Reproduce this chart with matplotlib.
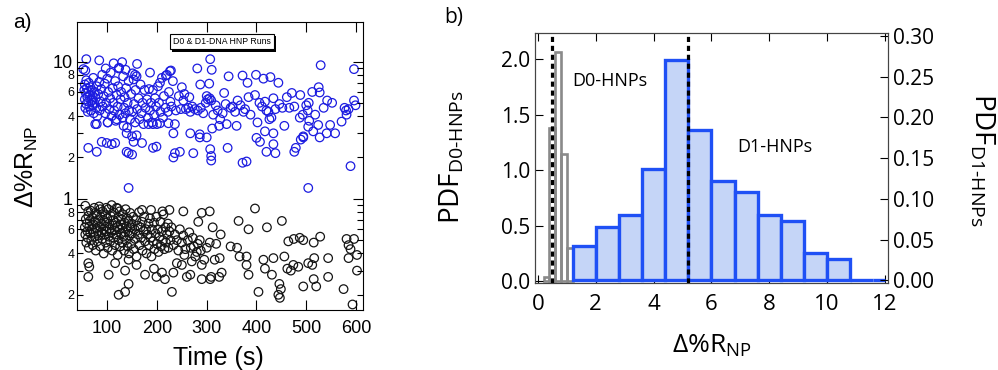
import numpy as np
import matplotlib
matplotlib.use('Agg')
import matplotlib.pyplot as plt
import matplotlib.patheffects as pe
from matplotlib.ticker import FixedLocator, FixedFormatter, FormatStrFormatter

plt.rcParams['font.family'] = ['Liberation Sans', 'DejaVu Sans']
plt.rcParams['mathtext.fontset'] = 'custom'
plt.rcParams['mathtext.rm'] = 'Open Sans'

# panel a) - (time in s, delta %R_NP) for each detected run
d1_runs = [
    (52, 8.8), (54, 6.2), (55, 5.3), (55, 6.8), (56, 4.6), (57, 5.9), (58, 7.3), (58, 4.9), (59, 6.4), (60, 5.5),
    (61, 4.3), (62, 6.0), (62, 5.1), (63, 7.0), (64, 4.7), (65, 5.7), (66, 6.5), (67, 4.4), (68, 5.2), (69, 6.2),
    (70, 4.8), (71, 5.6), (72, 7.6), (73, 4.2), (74, 5.0), (75, 6.0), (76, 3.5), (77, 5.4), (78, 4.6), (79, 6.6),
    (80, 4.0), (82, 5.8), (84, 7.1), (85, 4.4), (87, 5.1), (88, 6.3),
    (58, 10.4), (84, 10.2), (56, 8.6), (113, 9.7), (130, 9.9), (123, 8.9), (97, 8.9), (137, 8.7), (156, 8.0),
    (159, 7.8), (160, 9.6), (186, 8.3), (206, 7.0), (218, 7.9), (226, 8.5),
    (90, 8.0), (91, 4.7), (93, 5.6), (95, 6.9), (96, 4.2), (98, 5.0), (100, 7.5), (101, 3.6), (102, 6.0), (104, 4.5),
    (106, 5.4), (107, 8.3), (109, 4.0), (111, 6.4), (112, 5.0), (114, 4.4), (116, 7.2), (117, 3.7), (119, 5.7), (121, 4.7),
    (122, 6.6), (124, 9.0), (125, 4.1), (127, 5.3), (128, 6.0), (131, 3.9), (132, 7.8), (134, 4.6), (135, 5.5), (137, 4.2),
    (138, 6.4), (140, 3.3), (141, 5.0), (143, 7.2), (144, 4.4), (146, 3.8), (148, 5.8), (150, 4.3), (151, 8.2), (153, 7.4),
    (154, 4.9), (156, 3.6), (157, 6.2), (160, 4.5),
    (163, 5.4), (165, 3.8), (167, 6.8), (169, 4.2), (171, 5.0), (173, 3.5), (175, 6.2), (177, 4.6), (180, 5.3), (182, 3.9),
    (184, 6.3), (186, 4.4), (188, 5.0), (190, 3.6), (192, 6.2), (194, 4.1), (196, 5.4), (198, 4.7), (200, 3.5), (202, 6.6),
    (204, 5.0), (207, 4.3), (210, 7.6), (212, 3.9), (214, 5.6), (217, 4.6), (220, 8.0), (222, 4.3), (224, 6.0), (227, 5.1),
    (229, 4.7), (228, 8.6), (232, 7.2), (238, 4.4), (244, 5.6), (248, 4.5), (250, 6.5), (253, 5.2), (255, 5.8), (258, 4.5),
    (263, 4.6), (265, 5.5), (267, 4.3), (271, 4.7), (276, 4.5), (281, 8.9), (282, 4.4), (287, 6.8), (288, 4.6), (293, 4.2),
    (298, 5.0), (300, 5.6), (302, 5.3), (305, 6.9), (306, 5.4), (307, 10.4), (309, 5.2), (310, 8.7), (313, 4.1), (318, 4.8),
    (322, 4.4), (327, 3.8), (332, 4.2), (335, 5.9), (338, 4.9), (344, 7.8), (348, 4.6), (352, 4.7), (357, 4.3), (362, 5.2),
    (368, 4.8), (372, 7.9), (374, 4.3), (377, 4.5), (382, 7.0), (384, 5.5), (388, 4.1), (397, 5.7), (399, 8.0), (406, 5.0),
    (411, 4.7), (414, 7.5), (417, 5.1), (420, 4.4), (424, 4.3), (426, 3.8), (428, 7.7), (430, 3.9), (434, 5.4), (438, 4.5),
    (444, 7.0), (446, 4.9), (452, 4.6), (461, 5.5), (466, 4.6), (471, 5.9), (476, 4.7), (488, 5.7), (493, 4.1), (500, 4.8),
    (503, 4.4), (505, 5.0), (506, 3.7), (512, 6.0), (518, 4.1), (525, 6.5), (527, 5.95), (529, 9.4), (535, 4.6), (542, 5.2),
    (552, 5.0), (577, 4.6), (580, 4.4), (585, 4.5), (596, 5.2), (596, 8.8), (599, 4.8),
    (62, 2.35), (79, 2.2), (89, 2.6), (99, 2.55), (109, 2.5), (116, 2.55), (139, 2.2), (143, 2.15), (150, 2.1), (143, 1.2),
    (153, 2.6), (170, 2.55), (192, 2.35), (199, 2.4), (233, 2.0), (236, 2.15), (246, 2.2), (273, 2.15), (286, 2.8), (307, 2.3),
    (309, 2.05), (309, 1.9), (342, 2.35), (372, 1.83), (380, 1.87), (400, 2.78), (407, 2.6), (420, 2.2), (434, 2.5), (438, 2.15),
    (479, 2.35), (476, 2.2), (489, 2.7), (494, 2.8), (504, 1.2), (589, 1.73),
    (79, 3.5), (101, 3.6), (119, 3.8), (133, 3.4), (139, 3.0), (150, 2.85), (159, 2.9), (183, 3.5), (192, 3.5), (206, 3.55),
    (223, 3.55), (233, 3.0), (236, 3.5), (267, 3.0), (286, 2.95), (300, 2.8), (311, 3.25), (325, 3.4), (340, 3.5), (360, 3.4),
    (402, 3.6), (417, 3.1), (434, 3.0), (456, 3.4), (487, 3.9), (494, 2.85), (504, 3.35), (514, 3.1), (524, 3.45), (527, 2.8),
    (541, 3.0), (548, 3.45), (558, 3.0), (571, 3.65), (581, 4.1),
]

d0_runs = [
    (56, 0.89), (62, 0.81), (76, 0.79), (86, 0.84), (98, 0.86), (121, 0.85), (170, 0.83), (188, 0.83), (211, 0.81), (225, 0.83),
    (253, 0.81), (290, 0.79), (306, 0.81), (397, 0.85),
    (283, 0.68), (312, 0.62), (328, 0.55), (364, 0.69), (384, 0.6), (421, 0.62), (451, 0.69), (464, 0.49), (475, 0.51), (487, 0.52),
    (494, 0.5), (515, 0.48), (528, 0.53), (581, 0.51), (596, 0.51), (585, 0.46), (589, 0.43), (602, 0.39), (585, 0.37), (544, 0.37),
    (516, 0.37), (512, 0.33), (504, 0.34), (484, 0.32), (474, 0.33), (469, 0.3), (462, 0.31), (456, 0.38), (434, 0.37), (414, 0.36),
    (417, 0.31), (431, 0.28), (384, 0.28), (380, 0.33), (380, 0.38), (366, 0.38), (361, 0.44), (348, 0.45), (326, 0.37), (316, 0.36),
    (319, 0.47), (306, 0.48), (290, 0.33), (290, 0.26), (309, 0.27), (307, 0.26), (325, 0.27), (330, 0.29), (446, 0.24), (449, 0.22),
    (444, 0.2), (447, 0.19), (404, 0.21), (494, 0.23), (515, 0.26), (520, 0.23), (544, 0.27), (575, 0.22), (593, 0.17), (602, 0.3),
    (62, 0.34), (64, 0.32), (62, 0.27), (103, 0.28), (123, 0.2), (136, 0.21), (143, 0.24), (136, 0.3), (116, 0.34), (143, 0.36),
    (159, 0.33), (176, 0.28), (194, 0.31), (199, 0.27), (210, 0.29), (216, 0.26), (230, 0.21), (233, 0.29), (240, 0.34), (250, 0.33),
    (260, 0.27), (270, 0.35), (267, 0.28), (257, 0.43), (274, 0.45), (280, 0.41), (286, 0.5), (253, 0.54), (265, 0.57),
    (55, 0.62), (56, 0.55), (57, 0.71), (58, 0.48), (59, 0.66), (60, 0.58), (61, 0.52), (62, 0.75), (63, 0.44), (64, 0.63),
    (65, 0.69), (66, 0.56), (67, 0.82), (68, 0.5), (69, 0.6), (70, 0.73), (71, 0.46), (72, 0.65), (73, 0.57), (74, 0.86),
    (75, 0.53), (76, 0.68), (77, 0.42), (78, 0.61), (79, 0.77), (80, 0.49),
    (81, 0.58), (82, 0.7), (83, 0.54), (84, 0.88), (85, 0.63), (86, 0.45), (87, 0.74), (88, 0.57), (89, 0.66), (90, 0.51),
    (91, 0.81), (92, 0.6), (93, 0.4), (94, 0.69), (95, 0.55), (96, 0.77), (97, 0.48), (98, 0.63), (99, 0.58), (100, 0.72),
    (101, 0.44), (102, 0.84), (103, 0.53), (104, 0.66), (105, 0.6), (106, 0.49), (107, 0.75), (108, 0.57), (109, 0.9), (110, 0.42),
    (111, 0.64), (112, 0.7), (113, 0.52), (114, 0.79), (115, 0.59), (116, 0.46), (117, 0.67), (118, 0.55), (119, 0.86), (120, 0.62),
    (121, 0.39), (122, 0.73), (123, 0.5), (124, 0.6), (125, 0.81), (126, 0.45), (127, 0.65), (128, 0.56), (129, 0.71), (130, 0.48),
    (131, 0.61), (132, 0.77), (133, 0.53), (134, 0.42), (135, 0.67), (136, 0.57), (137, 0.84), (138, 0.5), (139, 0.63), (140, 0.72),
    (141, 0.45), (142, 0.58), (143, 0.69), (144, 0.4), (145, 0.54), (146, 0.79), (147, 0.62), (148, 0.47), (149, 0.66), (150, 0.56),
    (152, 0.74), (153, 0.43), (155, 0.6), (156, 0.51), (158, 0.7), (159, 0.38), (161, 0.64), (162, 0.55), (164, 0.8), (165, 0.46),
    (167, 0.62), (168, 0.52), (170, 0.68), (171, 0.42), (173, 0.58), (174, 0.74), (176, 0.49), (178, 0.6), (179, 0.4),
    (181, 0.55), (183, 0.66), (184, 0.46), (186, 0.72), (187, 0.52), (189, 0.38), (190, 0.6), (192, 0.49), (194, 0.67), (195, 0.43),
    (197, 0.56), (199, 0.74), (200, 0.47), (202, 0.6), (203, 0.41), (205, 0.53), (207, 0.68), (208, 0.45), (210, 0.58), (212, 0.5),
    (213, 0.77), (215, 0.43), (217, 0.62), (218, 0.48), (220, 0.55), (222, 0.66), (223, 0.44), (225, 0.58), (227, 0.5), (229, 0.62),
    (233, 0.46), (236, 0.55), (240, 0.5), (243, 0.42), (246, 0.6), (250, 0.48), (255, 0.39), (262, 0.5), (268, 0.44), (272, 0.52),
    (277, 0.38), (282, 0.47), (288, 0.42), (295, 0.36), (300, 0.44),
]

# panel b) - histograms (PDF) of delta %R_NP
d0_edges = [0.2, 0.4, 0.6, 0.8, 1.0, 1.2]
d0_pdf = [0.04, 1.38, 2.07, 1.15, 0.30]
d1_edges = [1.2, 2.0, 2.8, 3.6, 4.4, 5.2, 6.0, 6.8, 7.6, 8.4, 9.2, 10.0, 10.8, 11.6, 12.0]
d1_pdf = [0.042, 0.065, 0.080, 0.137, 0.270, 0.185, 0.122, 0.108, 0.080, 0.073, 0.034, 0.026, 0.0, 0.0]
d0_mean = 0.5
d1_mean = 5.2

d1_time, d1_dr = zip(*d1_runs)
d0_time, d0_dr = zip(*d0_runs)

fig = plt.figure(figsize=(9.98, 3.70), dpi=100)

# ---- a) scatter ----
ax1 = fig.add_axes([0.0775, 0.1622, 0.2862, 0.7792])
ax1.scatter(d1_time, d1_dr, s=38, facecolors='none', edgecolors='#1c1ce0', linewidths=0.9)
ax1.scatter(d0_time, d0_dr, s=38, facecolors='none', edgecolors='#151515', linewidths=0.9)
ax1.set_yscale('log')
ax1.set_xlim(40, 614)
ax1.set_ylim(0.155, 19.5)
ax1.set_xticks([100, 200, 300, 400, 500, 600])
ax1.yaxis.set_major_locator(FixedLocator([1, 10]))
ax1.yaxis.set_major_formatter(FixedFormatter(['1', '10']))
minor_vals = [0.2, 0.3, 0.4, 0.5, 0.6, 0.7, 0.8, 0.9, 2, 3, 4, 5, 6, 7, 8, 9]
minor_labels = ['2', '', '4', '', '6', '', '8', '', '2', '', '4', '', '6', '', '8', '']
ax1.yaxis.set_minor_locator(FixedLocator(minor_vals))
ax1.yaxis.set_minor_formatter(FixedFormatter(minor_labels))
ax1.xaxis.set_minor_locator(FixedLocator([]))
ax1.tick_params(which='both', direction='in', top=True, right=True, width=0.8)
ax1.tick_params(which='major', length=7, labelsize=13)
ax1.tick_params(axis='x', pad=7)
ax1.tick_params(axis='y', which='minor', length=4, labelsize=9, pad=2)
for s in ax1.spines.values():
    s.set_linewidth(0.8)

# boxed title with a small drop shadow
box_shadow = [pe.SimplePatchShadow(offset=(1.5, -1.5), shadow_rgbFace='k', alpha=1.0), pe.Normal()]
ax1.text(0.506, 0.93, 'D0 & D1-DNA HNP Runs', transform=ax1.transAxes, ha='center', va='center',
         fontsize=6.3, bbox=dict(boxstyle='square,pad=0.35', fc='white', ec='k', lw=0.8,
                                 path_effects=box_shadow))

fig.text(0.013, 0.938, 'a)', fontsize=15, va='center')
fig.text(0.027, 0.549, 'Δ%R$_{\\mathregular{NP}}$', fontsize=18, rotation=90, ha='center', va='center')
fig.text(0.2184, 0.0135, 'Time (s)', fontsize=18, ha='center', va='baseline')

# ---- b) histograms ----
ax2 = fig.add_axes([0.536, 0.2359, 0.3537, 0.6757])
ax2.bar(d0_edges[:-1], d0_pdf, width=np.diff(d0_edges), align='edge',
        facecolor='none', edgecolor='#8a8a8a', linewidth=1.9)
ax2.set_xlim(-0.1, 12.1)
ax2.set_ylim(-0.015, 2.24)
ax2.set_xticks(range(0, 13, 2))
ax2.set_yticks([0.0, 0.5, 1.0, 1.5, 2.0])
ax2.yaxis.set_major_formatter(FormatStrFormatter('%.1f'))
ax2.tick_params(direction='in', top=True, right=False, length=6, width=0.8, labelsize=15)
ax2.tick_params(axis='x', labelsize=16, pad=8)

ax3 = ax2.twinx()
ax3.bar(d1_edges[:-1], d1_pdf, width=np.diff(d1_edges), align='edge',
        facecolor='#c5d5f7', edgecolor='#1f50f5', linewidth=2.4)
ax3.axvline(d0_mean, color='k', ls=(0, (1.6, 1.2)), lw=2.3)
ax3.axvline(d1_mean, color='k', ls=(0, (1.6, 1.2)), lw=2.3)
ax3.set_ylim(-0.003, 0.304)
ax3.set_yticks([0.0, 0.05, 0.10, 0.15, 0.20, 0.25, 0.30])
ax3.yaxis.set_major_formatter(FormatStrFormatter('%.2f'))
ax3.tick_params(direction='in', length=6, width=0.8, labelsize=15)
for a in (ax2, ax3):
    for s in a.spines.values():
        s.set_linewidth(0.8)
        s.set_color('#444444')
    for lbl in a.get_xticklabels() + a.get_yticklabels():
        lbl.set_fontfamily('Open Sans')

ax3.text(1.18, 0.245, 'D0-HNPs', fontsize=13, family='Open Sans', va='center')
ax3.text(6.9, 0.1636, 'D1-HNPs', fontsize=13, family='Open Sans', va='center')

fig.text(0.445, 0.954, 'b)', fontsize=15, va='center', family='Open Sans')
fig.text(0.453, 0.576, 'PDF$_{\\text{D0-HNPs}}$', fontsize=20, rotation=90,
         ha='center', va='center', family='Open Sans')
fig.text(0.984, 0.568, 'PDF$_{\\text{D1-HNPs}}$', fontsize=20, rotation=270,
         ha='center', va='center', family='Open Sans')
fig.text(0.7134, 0.046, 'Δ%R$_{\\mathregular{NP}}$', fontsize=19, ha='center', va='baseline',
         family='Open Sans')

fig.savefig('out.png', dpi=100)
